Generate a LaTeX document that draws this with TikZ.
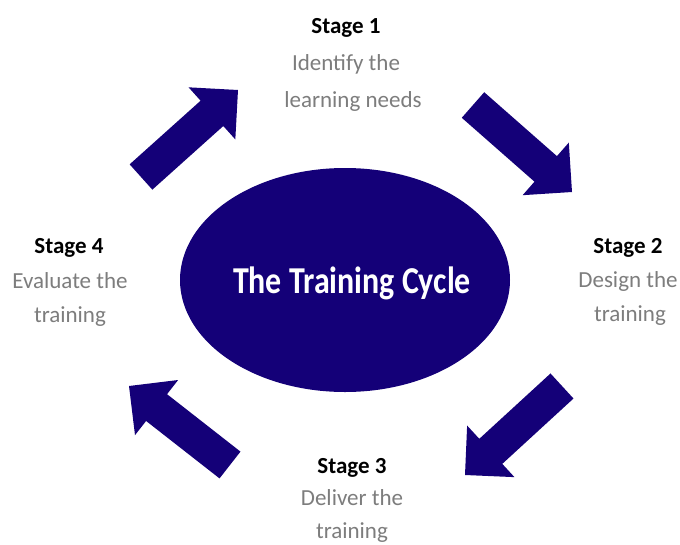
\documentclass[tikz,border=0pt]{standalone}
\usepackage{fontspec}
\setmainfont{Carlito}
\usetikzlibrary{calc,shapes.geometric}
\definecolor{navy}{RGB}{20,0,120}
\definecolor{labelgray}{RGB}{125,125,125}
\tikzset{
  stagehead/.style={anchor=base, font=\fontsize{23}{23}\selectfont\bfseries, text=black, inner sep=0pt},
  stageline/.style={anchor=base, font=\fontsize{23}{23}\selectfont, text=labelgray, inner sep=0pt},
  blockfill/.style={fill=navy, draw=none},
}
\newcommand{\blockarrow}[2]{%
  \coordinate (#1b) at ($(#2)!35pt!(#1)$);
  \fill[blockfill] ($(#1)!17pt!90:(#2)$) -- ($(#1b)!17pt!-90:(#1)$) -- ($(#1b)!35pt!-90:(#1)$) -- (#2)
    -- ($(#1b)!35pt!90:(#1)$) -- ($(#1b)!17pt!90:(#1)$) -- ($(#1)!17pt!-90:(#2)$) -- cycle;
}
\begin{document}
\begin{tikzpicture}[x=1pt,y=-1pt]
\useasboundingbox (0,0) rectangle (680,544);
\fill[white] (0,0) rectangle (680,544);

% central ellipse
\node (cycle) [ellipse, minimum width=330pt, minimum height=224pt, fill=navy, inner sep=0pt] at (345,280) {};
\node (title) [anchor=base, text=white, inner sep=0pt, font=\fontsize{38}{38}\selectfont\bfseries] at (352,293) {\scalebox{0.84}[1]{The Training Cycle}};

% arrows
\coordinate (t1) at (141,177); \coordinate (p1) at (238,90);
\coordinate (t2) at (473,105); \coordinate (p2) at (572,192);
\coordinate (t3) at (562,386); \coordinate (p3) at (465,475);
\coordinate (t4) at (230,465); \coordinate (p4) at (129,386);
\blockarrow{t1}{p1}
\blockarrow{t2}{p2}
\blockarrow{t3}{p3}
\blockarrow{t4}{p4}

% Stage 1
\node (s1a) [stagehead] at (346,33) {Stage 1};
\node (s1b) [stageline] at (346,70) {Identify the};
\node (s1c) [stageline] at (353,107) {learning needs};
% Stage 2
\node (s2a) [stagehead] at (628,253) {Stage 2};
\node (s2b) [stageline] at (628,287) {Design the};
\node (s2c) [stageline] at (630,321) {training};
% Stage 3
\node (s3a) [stagehead] at (352,473) {Stage 3};
\node (s3b) [stageline] at (352,505) {Deliver the};
\node (s3c) [stageline] at (352,538) {training};
% Stage 4
\node (s4a) [stagehead] at (69,253) {Stage 4};
\node (s4b) [stageline] at (70,288) {Evaluate the};
\node (s4c) [stageline] at (70,322) {training};
\end{tikzpicture}
\end{document}
